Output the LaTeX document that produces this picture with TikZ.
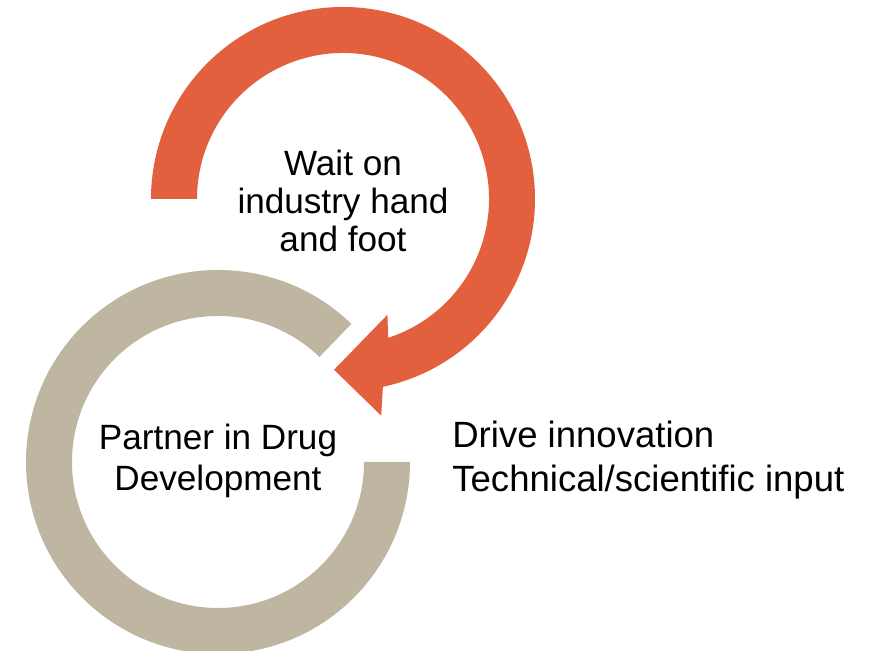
\documentclass[tikz,border=0pt]{standalone}
\usepackage{fontspec}
\setmainfont{Liberation Sans}
\usetikzlibrary{positioning,calc}

\definecolor{arrowOrange}{RGB}{226,96,61}
\definecolor{ringGrey}{RGB}{190,182,160}

\begin{document}
\begin{tikzpicture}[x=0.02cm,y=0.02cm]
\tikzset{
	cycleText/.style={
		align=center,
		font=\fontsize{20}{21.5}\selectfont,
		text=black,
		inner sep=0pt
	},
	sideText/.style={
		align=left,
		font=\fontsize{20.8}{25.5}\selectfont,
		text=black,
		inner sep=0pt
	}
}
\useasboundingbox (0,0) rectangle (877,651);

\coordinate (OC) at (343,452);
\coordinate (GC) at (218,189);

%--------------------------- grey ring ------------
\fill[ringGrey] ($(GC)+(46:192)$) arc[start angle=46, end angle=360, radius=192]
	-- ($(GC)+(0:146)$) arc[start angle=360, end angle=46, radius=146] -- cycle;

%--------------------------- orange arrow ------------
\fill[arrowOrange] ($(OC)+(180:192)$) arc[start angle=180, end angle=-78, radius=192]
	-- ($(OC)+(-80:220)$)
	-- ($(OC)+(-93:171)$)
	-- ($(OC)+(-69:124)$)
	-- ($(OC)+(-72:146)$)
	arc[start angle=-72, end angle=180, radius=146] -- cycle;

%--------------------------- labels ------------
\node[cycleText] (WAIT) at (343,450) {Wait on\\industry hand\\and foot};
\node[cycleText, font=\fontsize{20}{23.8}\selectfont] (PARTNER) at (218,190) {Partner in Drug\\Development};
\node[sideText, anchor=west] (DRIVE) at (452,191) {Drive innovation\\Technical/scientific input};

\end{tikzpicture}
\end{document}
